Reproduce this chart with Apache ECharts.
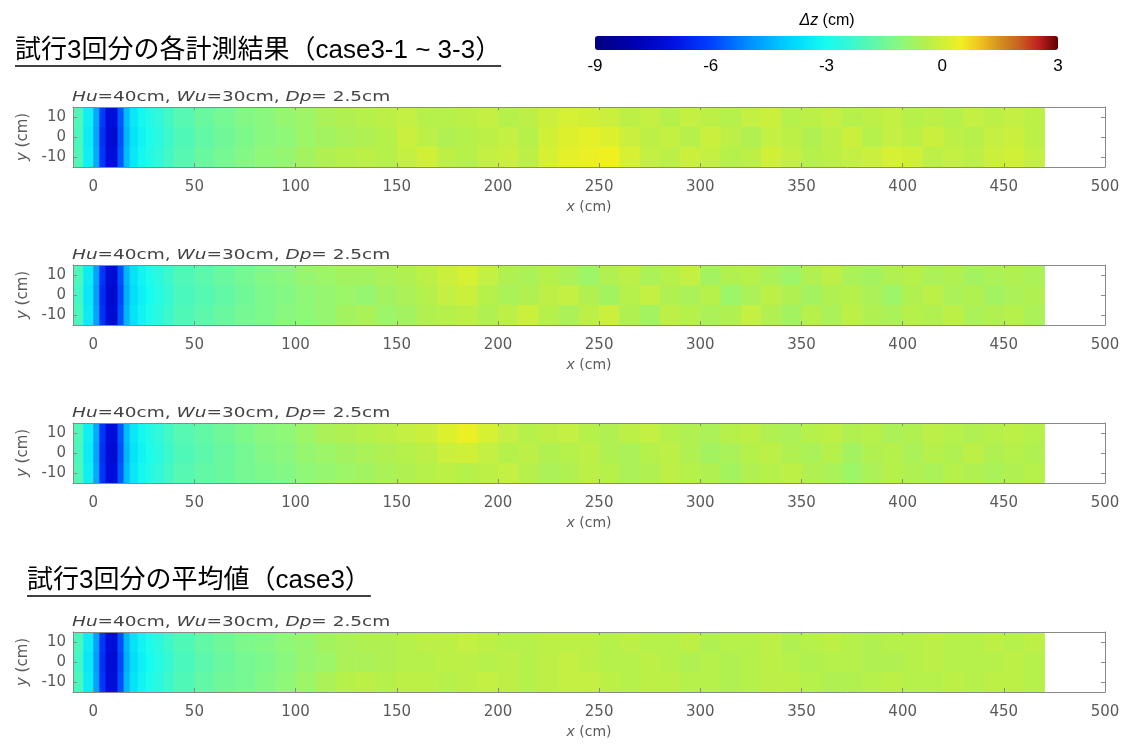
<!DOCTYPE html>
<html>
<head>
<meta charset="utf-8">
<script src="https://cdn.jsdelivr.net/npm/echarts@6/dist/echarts.min.js"></script>
<style>
  html, body { margin: 0; padding: 0; background: #fff; }
  #chart { width: 1129px; height: 753px; }
</style>
</head>
<body>
<div id="chart"></div>
<script>
// Bin edges along the flume (cm) and across it (cm)
const xEdges = [-10, -5, 0, 3, 6, 9, 12, 15, 18, 22, 26, 30, 35, 40, 50, 60, 70, 80, 90, 100,
  110, 120, 130, 140, 150, 160, 170, 180, 190, 200, 210, 220, 230, 240, 250, 260, 270, 280, 290, 300,
  310, 320, 330, 340, 350, 360, 370, 380, 390, 400, 410, 420, 430, 440, 450, 460, 470];
const yBands = [[5, 15], [-5, 5], [-15, -5]];

const xTicks = [0, 50, 100, 150, 200, 250, 300, 350, 400, 450, 500];
const yTicks = [-10, 0, 10];

// Bed change dz (cm): one row per band (upper, middle, lower), one value per x bin
const run1 = [
  [-2.0, -3.3, -4.6, -6.1, -7.1, -7.2, -5.7, -4.3, -3.5, -3.1, -2.8, -2.5, -2.2,
   -1.9, -1.6, -1.4, -1.2, -1.1, -0.9, -0.8, -0.6, -0.5, -0.4, -0.3, -0.2, -0.4, -0.4, -0.3, -0.2, -0.4, -0.3, -0.1, 0.1,
   0.0, -0.1, -0.3, -0.2, -0.4, -0.2, -0.3, -0.4, -0.2, -0.1, -0.4, -0.3, -0.2, -0.4, -0.3, -0.2, -0.4, -0.3, -0.4, -0.2,
   -0.3, -0.2, -0.3],
  [-2.1, -3.4, -4.7, -6.3, -7.2, -7.3, -5.8, -4.4, -3.6, -3.2, -2.9, -2.6, -2.3,
   -2.0, -1.7, -1.5, -1.3, -1.1, -1.0, -0.8, -0.7, -0.6, -0.5, -0.4, -0.1, -0.3, -0.5, -0.4, -0.3, -0.2, -0.4, 0.0, 0.2,
   0.3, 0.2, -0.1, -0.3, -0.2, -0.4, -0.1, -0.3, -0.5, -0.2, -0.3, -0.5, -0.3, -0.1, -0.4, -0.2, -0.3, -0.1, -0.3, -0.4,
   -0.2, -0.1, -0.3],
  [-2.0, -3.3, -4.6, -6.2, -7.1, -7.2, -5.7, -4.3, -3.5, -3.1, -2.8, -2.5, -2.2,
   -1.9, -1.6, -1.4, -1.2, -1.0, -0.9, -0.7, -0.5, -0.4, -0.3, -0.4, -0.2, 0.0, -0.3, -0.4, -0.2, -0.1, -0.3, 0.1, 0.3,
   0.4, 0.5, 0.1, -0.2, -0.3, -0.1, -0.2, -0.4, -0.3, 0.0, -0.2, -0.4, -0.3, -0.2, -0.1, 0.1, 0.0, -0.3, -0.2, -0.3,
   -0.1, 0.0, -0.2]
];
const run2 = [
  [-2.1, -3.4, -4.7, -6.2, -7.2, -7.3, -5.8, -4.4, -3.6, -3.2, -2.9, -2.6, -2.3,
   -2.0, -1.8, -1.6, -1.4, -1.2, -1.1, -0.9, -0.8, -0.7, -0.7, -0.6, -0.5, -0.3, -0.1, 0.1, -0.2, -0.5, -0.6, -0.4, -0.6,
   -0.8, -0.5, -0.3, -0.6, -0.4, -0.2, -0.7, -0.5, -0.4, -0.6, -0.8, -0.5, -0.3, -0.6, -0.7, -0.5, -0.4, -0.6, -0.5, -0.7,
   -0.6, -0.5, -0.6],
  [-2.2, -3.5, -4.8, -6.4, -7.3, -7.4, -5.9, -4.5, -3.7, -3.3, -3.0, -2.7, -2.4,
   -2.1, -1.9, -1.7, -1.5, -1.3, -1.2, -1.0, -0.9, -0.8, -0.9, -0.7, -0.6, -0.4, -0.2, -0.1, -0.4, -0.6, -0.5, -0.3, -0.2,
   -0.5, -0.7, -0.4, -0.2, -0.5, -0.6, -0.4, -0.8, -0.6, -0.3, -0.5, -0.7, -0.5, -0.4, -0.6, -0.8, -0.5, -0.3, -0.6, -0.5,
   -0.7, -0.6, -0.5],
  [-2.1, -3.4, -4.7, -6.3, -7.2, -7.3, -5.8, -4.4, -3.6, -3.2, -2.9, -2.6, -2.3,
   -2.0, -1.8, -1.6, -1.4, -1.3, -1.1, -1.0, -0.9, -0.7, -0.6, -0.8, -0.7, -0.5, -0.4, -0.3, -0.5, -0.3, -0.1, -0.4, -0.6,
   -0.3, -0.1, -0.5, -0.7, -0.3, -0.4, -0.6, -0.5, -0.2, -0.5, -0.7, -0.4, -0.6, -0.3, -0.5, -0.6, -0.4, -0.5, -0.3, -0.6,
   -0.5, -0.4, -0.6]
];
const run3 = [
  [-2.0, -3.3, -4.6, -6.2, -7.1, -7.2, -5.7, -4.3, -3.5, -3.1, -2.8, -2.5, -2.2,
   -1.9, -1.7, -1.5, -1.3, -1.1, -1.0, -0.8, -0.6, -0.5, -0.4, -0.3, -0.2, -0.1, 0.2, 0.4, 0.1, -0.2, -0.4, -0.3, -0.2,
   -0.4, -0.5, -0.3, -0.2, -0.4, -0.5, -0.6, -0.4, -0.3, -0.5, -0.6, -0.4, -0.3, -0.5, -0.4, -0.6, -0.5, -0.3, -0.4, -0.5,
   -0.4, -0.3, -0.4],
  [-2.1, -3.4, -4.7, -6.3, -7.2, -7.3, -5.8, -4.4, -3.6, -3.2, -2.9, -2.6, -2.3,
   -2.0, -1.8, -1.6, -1.4, -1.2, -1.1, -0.9, -0.8, -0.7, -0.6, -0.5, -0.4, -0.3, -0.1, 0.0, -0.2, -0.4, -0.3, -0.5, -0.4,
   -0.3, -0.5, -0.6, -0.4, -0.3, -0.5, -0.7, -0.6, -0.4, -0.3, -0.5, -0.6, -0.4, -0.7, -0.5, -0.4, -0.6, -0.4, -0.5, -0.3,
   -0.5, -0.4, -0.5],
  [-2.0, -3.3, -4.6, -6.2, -7.1, -7.2, -5.7, -4.3, -3.5, -3.1, -2.8, -2.5, -2.2,
   -1.9, -1.7, -1.6, -1.4, -1.3, -1.2, -1.0, -0.9, -0.8, -0.7, -0.6, -0.5, -0.4, -0.3, -0.4, -0.3, -0.2, -0.4, -0.6, -0.5,
   -0.3, -0.4, -0.6, -0.5, -0.3, -0.4, -0.5, -0.7, -0.5, -0.4, -0.3, -0.5, -0.6, -0.8, -0.6, -0.4, -0.5, -0.6, -0.4, -0.5,
   -0.6, -0.5, -0.4]
];
const meanRun = [
  [-2.1, -3.4, -4.7, -6.2, -7.1, -7.2, -5.8, -4.4, -3.6, -3.2, -2.9, -2.6, -2.3,
   -2.0, -1.7, -1.5, -1.3, -1.2, -1.0, -0.9, -0.7, -0.6, -0.5, -0.5, -0.4, -0.3, -0.3, -0.2, -0.3, -0.4, -0.4, -0.3, -0.3,
   -0.3, -0.4, -0.3, -0.4, -0.4, -0.3, -0.5, -0.4, -0.4, -0.3, -0.5, -0.4, -0.3, -0.4, -0.5, -0.4, -0.4, -0.3, -0.4, -0.4,
   -0.3, -0.4, -0.3],
  [-2.2, -3.5, -4.8, -6.3, -7.2, -7.3, -5.9, -4.5, -3.7, -3.3, -3.0, -2.7, -2.4,
   -2.1, -1.8, -1.6, -1.4, -1.3, -1.1, -0.9, -0.8, -0.6, -0.6, -0.5, -0.4, -0.4, -0.3, -0.3, -0.4, -0.3, -0.4, -0.3, -0.2,
   -0.3, -0.4, -0.4, -0.3, -0.4, -0.5, -0.4, -0.5, -0.4, -0.3, -0.4, -0.5, -0.4, -0.4, -0.5, -0.5, -0.4, -0.3, -0.4, -0.4,
   -0.4, -0.3, -0.4],
  [-2.1, -3.4, -4.7, -6.2, -7.1, -7.2, -5.8, -4.4, -3.6, -3.2, -2.9, -2.6, -2.3,
   -2.0, -1.7, -1.5, -1.4, -1.2, -1.0, -0.8, -0.6, -0.4, -0.3, -0.4, -0.3, -0.3, -0.4, -0.3, -0.2, -0.3, -0.4, -0.3, -0.2,
   -0.2, -0.3, -0.4, -0.3, -0.3, -0.4, -0.4, -0.5, -0.4, -0.3, -0.3, -0.4, -0.5, -0.5, -0.4, -0.3, -0.4, -0.4, -0.3, -0.4,
   -0.3, -0.3, -0.4]
];

const panels = [run1, run2, run3, meanRun];
const panelTitle = '{i|Hu}=40cm, {i|Wu}=30cm, {i|Dp}= 2.5cm';
const heading1 = '試行3回分の各計測結果（case3-1 ~ 3-3）';
const heading2 = '試行3回分の平均値（case3）';
const colorbarTitle = '{i|Δz} (cm)';

// Colour ramp for dz from -9 to 3 cm in 0.5 cm steps
const dzColors = [
  '#000080', '#000098', '#0000b0', '#0008c8', '#0010e0', '#0028f0', '#0040ff', '#0068ff',
  '#0090ff', '#00b0ff', '#00d0ff', '#08e8f8', '#18fcf0', '#30f8d8', '#50f8b8', '#70f898',
  '#90f878', '#b0f050', '#d0f038', '#f0f020', '#f0c020', '#d09020', '#c86020', '#c02020', '#600000'
];

const panelTops = [107, 265, 423, 632];
const panelH = 60;
const tickFont = 'DejaVu Sans';
const axisGray = '#8a8a8a';
const labelGray = '#5a5a5a';

const grids = [], xAxes = [], yAxes = [], series = [], graphics = [];

function renderCell(params, api) {
  const a = api.coord([api.value(0), api.value(3)]);
  const b = api.coord([api.value(1), api.value(2)]);
  return {
    type: 'rect',
    shape: { x: a[0], y: a[1], width: b[0] - a[0] + 0.6, height: b[1] - a[1] + 0.6 },
    style: { fill: api.visual('color') }
  };
}

panels.forEach((rows, p) => {
  grids.push({ left: 73, right: 24, top: panelTops[p], height: panelH, containLabel: false });
  const frame = { show: true, onZero: false, lineStyle: { color: axisGray, width: 1 } };
  xAxes.push({
    gridIndex: p, type: 'value', min: -10, max: 500, position: 'bottom', z: 5,
    axisLine: frame,
    axisTick: { show: true, inside: true, length: 4, customValues: xTicks, lineStyle: { color: axisGray } },
    axisLabel: { customValues: xTicks, margin: 13, fontFamily: tickFont, fontSize: 15, color: labelGray },
    splitLine: { show: false },
    name: '{i|x} (cm)', nameLocation: 'middle', nameGap: 33,
    nameTextStyle: { fontFamily: tickFont, fontSize: 14, color: labelGray,
      rich: { i: { fontStyle: 'italic', fontFamily: tickFont, fontSize: 14, color: labelGray } } }
  });
  xAxes.push({
    gridIndex: p, type: 'value', min: -10, max: 500, position: 'top', z: 5,
    axisLine: frame,
    axisTick: { show: true, inside: true, length: 3, customValues: xTicks, lineStyle: { color: axisGray } },
    axisLabel: { show: false }, splitLine: { show: false }
  });
  yAxes.push({
    gridIndex: p, type: 'value', min: -15, max: 15, position: 'left', z: 5,
    axisLine: frame,
    axisTick: { show: true, inside: true, length: 4, customValues: yTicks, lineStyle: { color: axisGray } },
    axisLabel: { customValues: yTicks, margin: 7, fontFamily: tickFont, fontSize: 15, color: labelGray },
    splitLine: { show: false },
    name: '{i|y} (cm)', nameLocation: 'middle', nameRotate: 90, nameGap: 38,
    nameTextStyle: { fontFamily: tickFont, fontSize: 15, color: labelGray,
      rich: { i: { fontStyle: 'italic', fontFamily: tickFont, fontSize: 15, color: labelGray } } }
  });
  yAxes.push({
    gridIndex: p, type: 'value', min: -15, max: 15, position: 'right', z: 5,
    axisLine: frame,
    axisTick: { show: true, inside: true, length: 4, customValues: yTicks, lineStyle: { color: axisGray } },
    axisLabel: { show: false }, splitLine: { show: false }
  });

  const data = [];
  rows.forEach((vals, r) => {
    vals.forEach((v, i) => {
      data.push([xEdges[i], xEdges[i + 1], yBands[r][0], yBands[r][1], v]);
    });
  });
  series.push({
    type: 'custom', xAxisIndex: 2 * p, yAxisIndex: 2 * p,
    renderItem: renderCell, clip: true, silent: true,
    encode: { x: [0, 1], y: [2, 3] },
    data: data
  });

  graphics.push({
    type: 'text', x: 72, y: panelTops[p] - 9.5, scaleX: 1.32,
    style: {
      text: panelTitle, fill: '#444', fontFamily: tickFont, fontSize: 14,
      verticalAlign: 'middle', align: 'left',
      rich: { i: { fontStyle: 'italic', fontFamily: tickFont, fontSize: 14, fill: '#444' } }
    }
  });
});

// Colour bar scale
grids.push({ left: 595, width: 463, top: 36, height: 14 });
xAxes.push({
  gridIndex: 4, type: 'value', min: -9, max: 3, interval: 3,
  axisLine: { show: false }, axisTick: { show: false }, splitLine: { show: false },
  axisLabel: { margin: 8, fontFamily: 'Liberation Sans', fontSize: 17, color: '#000' }
});
yAxes.push({ gridIndex: 4, type: 'value', show: false, min: 0, max: 1 });

// Headings with underline
const headFont = '"Liberation Sans", "Noto Sans CJK JP", sans-serif';
const headSize = 26;
const measure = document.createElement('canvas').getContext('2d');
measure.font = headSize + 'px ' + headFont;
const w1 = measure.measureText(heading1).width;
const w2 = measure.measureText(heading2).width;
graphics.push(
  { type: 'text', x: 15, y: 51, style: { text: heading1, font: headSize + 'px ' + headFont, fill: '#000', verticalAlign: 'middle' } },
  { type: 'line', shape: { x1: 15, y1: 66, x2: 15 + w1, y2: 66 }, style: { stroke: '#000', lineWidth: 1.5 } },
  { type: 'text', x: 27, y: 581, style: { text: heading2, font: headSize + 'px ' + headFont, fill: '#000', verticalAlign: 'middle' } },
  { type: 'line', shape: { x1: 27, y1: 596, x2: 27 + w2, y2: 596 }, style: { stroke: '#000', lineWidth: 1.5 } },
  { type: 'text', x: 827, y: 21, style: {
      text: colorbarTitle, fill: '#000', fontFamily: 'Liberation Sans', fontSize: 16,
      align: 'center', verticalAlign: 'middle',
      rich: { i: { fontStyle: 'italic', fontFamily: 'Liberation Sans', fontSize: 16, fill: '#000' } } } }
);

const chart = echarts.init(document.getElementById('chart'), null, { renderer: 'canvas' });
chart.setOption({
  animation: false,
  backgroundColor: '#fff',
  grid: grids,
  xAxis: xAxes,
  yAxis: yAxes,
  visualMap: {
    type: 'continuous', min: -9, max: 3, dimension: 4, seriesIndex: [0, 1, 2, 3],
    orient: 'horizontal', left: 595, top: 36, itemWidth: 14, itemHeight: 463,
    padding: 0, calculable: false, hoverLink: false, text: null, showLabel: false,
    inRange: { color: dzColors }
  },
  series: series,
  graphic: graphics
});
</script>
</body>
</html>
